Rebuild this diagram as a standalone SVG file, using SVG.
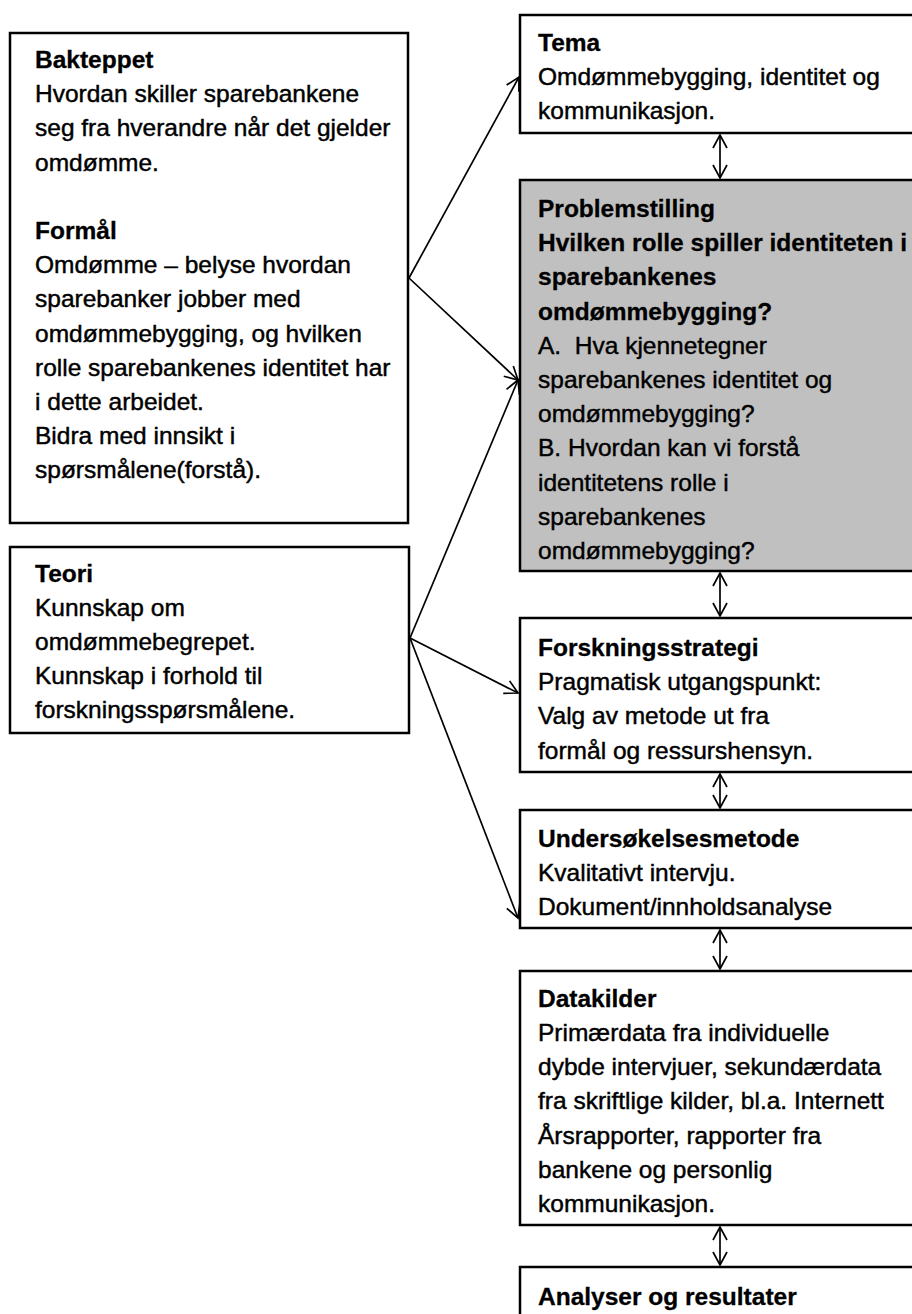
<svg xmlns="http://www.w3.org/2000/svg" width="912" height="1314" viewBox="0 0 912 1314">
<style>
.box{fill:#fff;stroke:#000;stroke-width:2.5}
.gray{fill:#c0c0c0;stroke:#000;stroke-width:2.5}
text{font-family:"Liberation Sans",Arial,sans-serif;font-size:24.5px;fill:#000;stroke:#000;stroke-width:0.45}
.b{font-weight:bold;stroke-width:0.3}
.con{stroke:#000;stroke-width:1.7;fill:none}
</style>
<defs>
<marker id="ah" viewBox="-16 -10 18 20" refX="0" refY="0" markerWidth="18" markerHeight="20" markerUnits="userSpaceOnUse" orient="auto-start-reverse">
<path d="M-13,-7 L0,0 L-13,7" fill="none" stroke="#000" stroke-width="1.7"/>
</marker>
</defs>
<rect width="912" height="1314" fill="#fff"/>

<g id="bakteppet">
<rect class="box" x="10" y="33" width="398" height="490"/>
<text class="b" x="35" y="68">Bakteppet</text>
<text x="35" y="102">Hvordan skiller sparebankene</text>
<text x="35" y="136">seg fra hverandre når det gjelder</text>
<text x="35" y="171">omdømme.</text>
<text class="b" x="35" y="239">Formål</text>
<text x="35" y="273">Omdømme – belyse hvordan</text>
<text x="35" y="307">sparebanker jobber med</text>
<text x="35" y="342">omdømmebygging, og hvilken</text>
<text x="35" y="376">rolle sparebankenes identitet har</text>
<text x="35" y="410">i dette arbeidet.</text>
<text x="35" y="444">Bidra med innsikt i</text>
<text x="35" y="478">spørsmålene(forstå).</text>
</g>

<g id="teori">
<rect class="box" x="10" y="547" width="399" height="186"/>
<text class="b" x="35" y="582">Teori</text>
<text x="35" y="616">Kunnskap om</text>
<text x="35" y="650">omdømmebegrepet.</text>
<text x="35" y="684">Kunnskap i forhold til</text>
<text x="35" y="718">forskningsspørsmålene.</text>
</g>

<g id="tema">
<rect class="box" x="520" y="15" width="410" height="118"/>
<text class="b" x="538" y="51">Tema</text>
<text x="538" y="85">Omdømmebygging, identitet og</text>
<text x="538" y="119">kommunikasjon.</text>
</g>

<g id="problemstilling">
<rect class="gray" x="520" y="180" width="410" height="391"/>
<text class="b" x="538" y="217">Problemstilling</text>
<text class="b" x="538" y="251">Hvilken rolle spiller identiteten i</text>
<text class="b" x="538" y="285">sparebankenes</text>
<text class="b" x="538" y="320">omdømmebygging?</text>
<text x="538" y="354">A.&#160; Hva kjennetegner</text>
<text x="538" y="388">sparebankenes identitet og</text>
<text x="538" y="422">omdømmebygging?</text>
<text x="538" y="456">B. Hvordan kan vi forstå</text>
<text x="538" y="491">identitetens rolle i</text>
<text x="538" y="525">sparebankenes</text>
<text x="538" y="559">omdømmebygging?</text>
</g>

<g id="forskningsstrategi">
<rect class="box" x="520" y="618" width="410" height="154"/>
<text class="b" x="538" y="656">Forskningsstrategi</text>
<text x="538" y="690">Pragmatisk utgangspunkt:</text>
<text x="538" y="724">Valg av metode ut fra</text>
<text x="538" y="759">formål og ressurshensyn.</text>
</g>

<g id="undersokelsesmetode">
<rect class="box" x="520" y="810" width="410" height="118"/>
<text class="b" x="538" y="847">Undersøkelsesmetode</text>
<text x="538" y="881">Kvalitativt intervju.</text>
<text x="538" y="915">Dokument/innholdsanalyse</text>
</g>

<g id="datakilder">
<rect class="box" x="520" y="971" width="410" height="254"/>
<text class="b" x="538" y="1007">Datakilder</text>
<text x="538" y="1041">Primærdata fra individuelle</text>
<text x="538" y="1075">dybde intervjuer, sekundærdata</text>
<text x="538" y="1109">fra skriftlige kilder, bl.a. Internett</text>
<text x="538" y="1144">Årsrapporter, rapporter fra</text>
<text x="538" y="1178">bankene og personlig</text>
<text x="538" y="1212">kommunikasjon.</text>
</g>

<g id="analyser">
<rect class="box" x="520" y="1267" width="410" height="80"/>
<text class="b" x="538" y="1305">Analyser og resultater</text>
</g>

<g id="connectors">
<line class="con" x1="409" y1="278" x2="519" y2="77" marker-end="url(#ah)"/>
<line class="con" x1="409" y1="278" x2="518" y2="380" marker-end="url(#ah)"/>
<line class="con" x1="410" y1="638" x2="518" y2="380" marker-end="url(#ah)"/>
<line class="con" x1="410" y1="638" x2="518" y2="693" marker-end="url(#ah)"/>
<line class="con" x1="410" y1="638" x2="518" y2="918" marker-end="url(#ah)"/>
<line class="con" x1="720" y1="135" x2="720" y2="178" marker-start="url(#ah)" marker-end="url(#ah)"/>
<line class="con" x1="720" y1="573" x2="720" y2="616" marker-start="url(#ah)" marker-end="url(#ah)"/>
<line class="con" x1="720" y1="774" x2="720" y2="808" marker-start="url(#ah)" marker-end="url(#ah)"/>
<line class="con" x1="720" y1="930" x2="720" y2="969" marker-start="url(#ah)" marker-end="url(#ah)"/>
<line class="con" x1="720" y1="1227" x2="720" y2="1265" marker-start="url(#ah)" marker-end="url(#ah)"/>
</g>
</svg>
